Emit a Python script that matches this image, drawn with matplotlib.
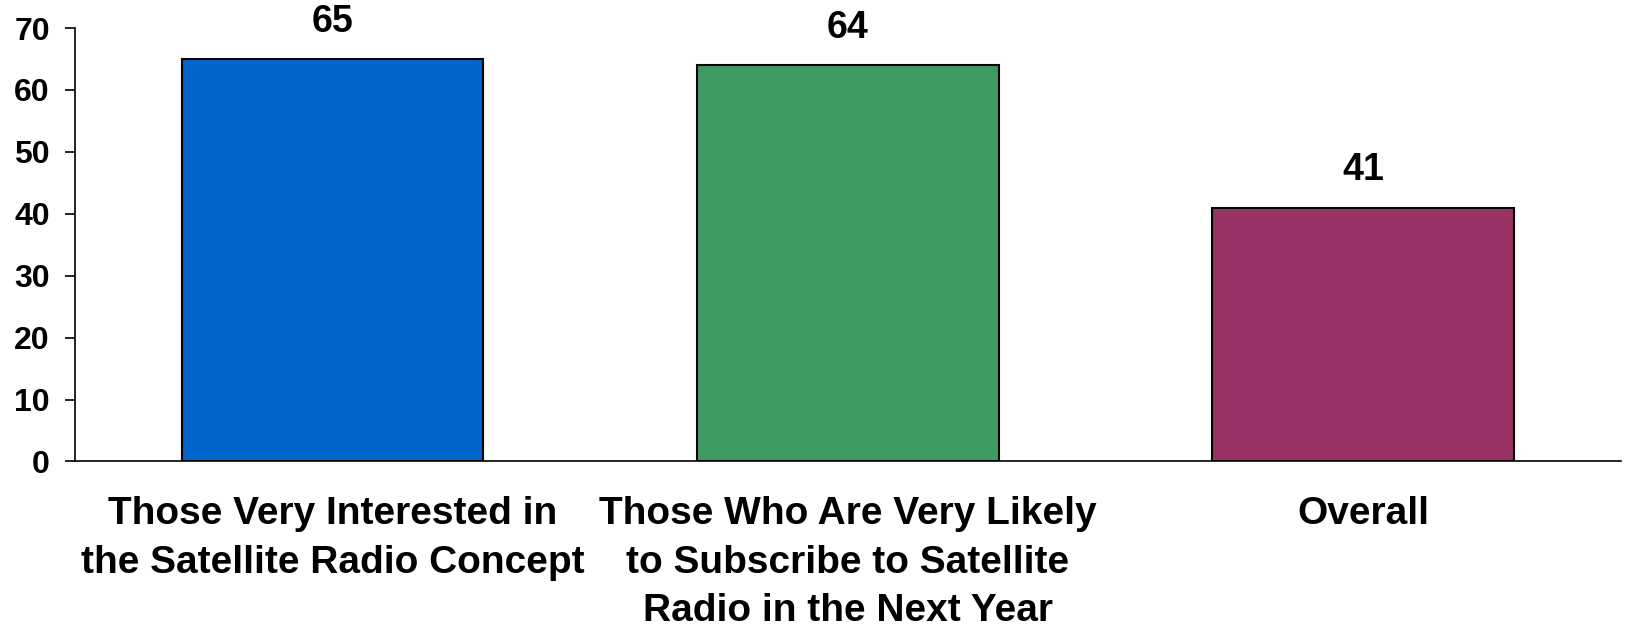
import numpy as np
import matplotlib
matplotlib.use("Agg")
import matplotlib.pyplot as plt

# data
categories = ["Those Very Interested in\nthe Satellite Radio Concept",
              "Those Who Are Very Likely\nto Subscribe to Satellite\nRadio in the Next Year",
              "Overall"]
values = [65, 64, 41]
bar_colors = ["#0066CC", "#3D9A62", "#993366"]
yticks = [0, 10, 20, 30, 40, 50, 60, 70]

plt.rcParams['font.family'] = ['Liberation Sans', 'DejaVu Sans']
plt.rcParams['font.weight'] = 'bold'

fig = plt.figure(figsize=(16.29, 6.30), dpi=100)
ax = fig.add_axes([0.046, 0.2675, 0.949, 0.688])

x = np.arange(len(values))
bars = ax.bar(x, values, width=0.585, color=bar_colors, edgecolor='black', linewidth=1.5, zorder=3)

for xi, v in zip(x, values):
    ax.annotate(str(v), (xi, v), xytext=(0, 14), textcoords='offset points',
                ha='center', va='bottom', fontsize=27, fontweight='bold')

ax.set_xlim(-0.5, 2.5)
ax.set_ylim(0, 70)
ax.set_yticks(yticks)
ax.set_xticks(x)
ax.set_xticklabels(categories, fontsize=28, fontweight='bold', linespacing=1.45)
ax.tick_params(axis='x', length=0, pad=25)
ax.tick_params(axis='y', length=7, width=1.2, pad=11, labelsize=23, direction='out')
for lab in ax.get_yticklabels():
    lab.set_fontweight('bold')

ax.spines['top'].set_visible(False)
ax.spines['right'].set_visible(False)
ax.spines['left'].set_linewidth(1.2)
ax.spines['bottom'].set_linewidth(1.2)

fig.savefig("out.png", dpi=100)
